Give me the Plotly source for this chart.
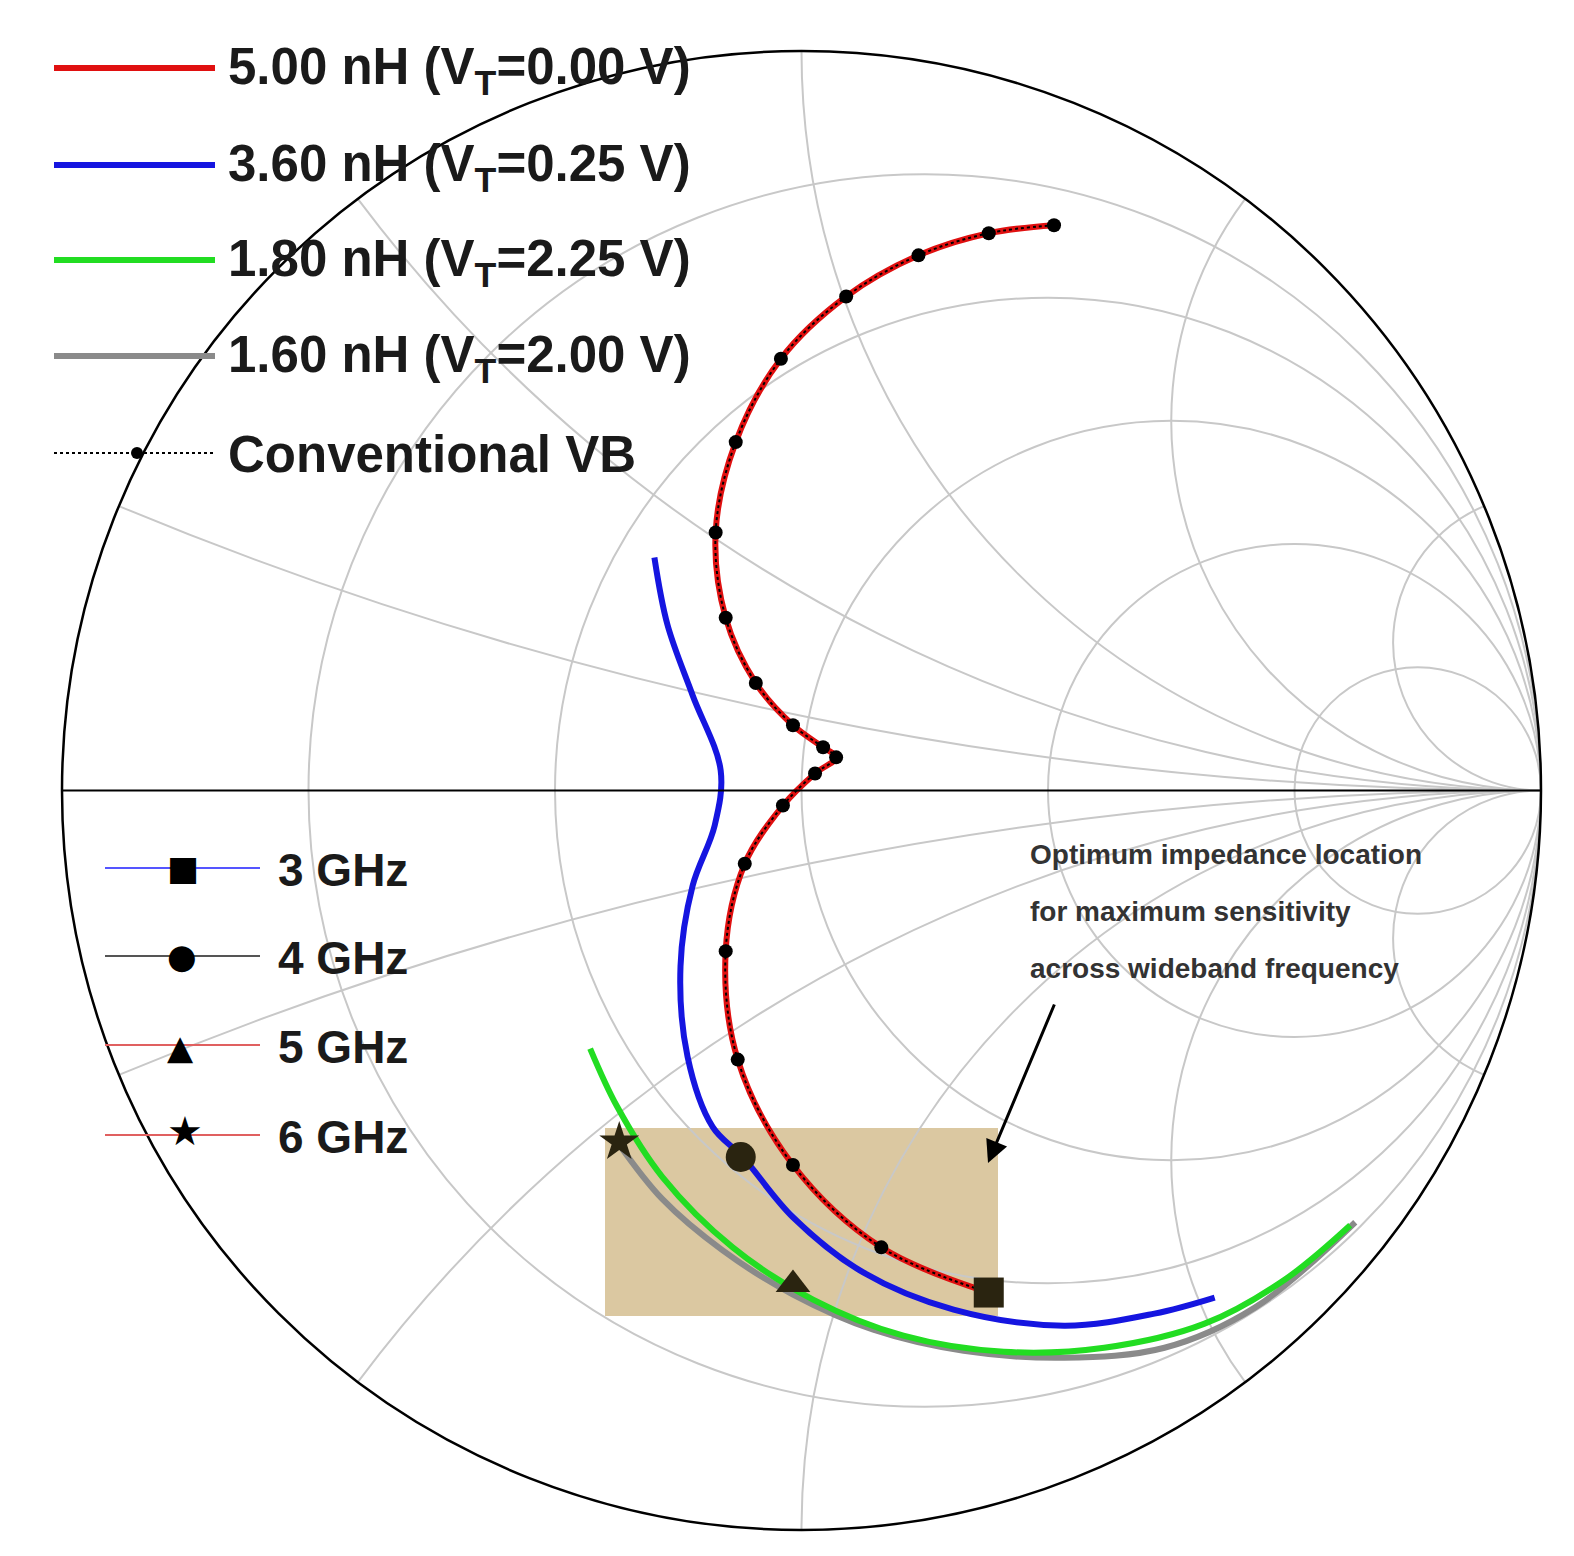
import plotly.graph_objects as go
import numpy as np

W, H = 1574, 1556
CX, CY, R = 798.5, 785, 736.5

# reflection-coefficient points (pixel coordinates on the chart)
red_px = [(1050,222),(985,230),(915,252),(843,293),(778,355),(733,438),(713,528),(723,613),
          (753,678),(790,720),(820,742),(833,752),(812,768),(780,800),(742,858),(723,945),
          (735,1053),(790,1158),(878,1240),(985,1285)]
blue_px = [(652,553),(665,620),(690,690),(718,765),(712,820),(690,880),(678,960),(685,1050),
           (710,1120),(740,1150),(790,1210),(860,1265),(950,1302),(1060,1318),(1150,1306),(1210,1290)]
green_px = [(588,1042),(615,1100),(660,1170),(730,1240),(810,1292),(900,1328),(1000,1344),
            (1100,1340),(1200,1316),(1280,1272),(1345,1218)]
gray_px = [(615,1135),(660,1192),(720,1243),(790,1287),(870,1322),(960,1343),(1060,1350),
           (1160,1340),(1250,1300),(1350,1215)]
freq_px = {"3 GHz": (985,1285), "4 GHz": (738,1150), "5 GHz": (790,1277), "6 GHz": (617,1135)}
freq_sym = {"3 GHz": "square", "4 GHz": "circle", "5 GHz": "triangle-up", "6 GHz": "star"}

def to_z(pts):
    g = np.array([complex((x-CX)/R, -(y-CY)/R) for x, y in pts])
    z = (1+g)/(1-g)
    return z.real, z.imag

fig = go.Figure()
def add(pts, color, width, dash=None, mode="lines", marker=None):
    re, im = to_z(pts)
    fig.add_trace(go.Scattersmith(real=re, imag=im, mode=mode,
                                  line=dict(color=color, width=width, dash=dash, shape="spline"),
                                  marker=marker, showlegend=False))

add(gray_px, "#8a8a8a", 6)
add(green_px, "#22dd22", 6)
add(blue_px, "#1515e0", 6)
add(red_px, "#e01010", 6)
add(red_px, "black", 2, dash="dot", mode="lines+markers", marker=dict(color="black", size=14))
for k, p in freq_px.items():
    re, im = to_z([p])
    fig.add_trace(go.Scattersmith(real=re, imag=im, mode="markers", showlegend=False,
                                  marker=dict(symbol=freq_sym[k], color="#2a2410", size=30)))

ticks = [0.2, 0.5, 1, 2, 5]
fig.update_layout(
    width=W, height=H, margin=dict(l=0, r=0, t=0, b=0),
    paper_bgcolor="white",
    smith=dict(domain=dict(x=[54/W, 1533/W], y=[1-1525/H, 1-40/H]), bgcolor="rgba(0,0,0,0)",
               realaxis=dict(tickvals=ticks, showticklabels=False, gridcolor="#c8c8c8",
                             gridwidth=1.5, linecolor="black", linewidth=2, ticks=""),
               imaginaryaxis=dict(tickvals=[-5, -2, -1, -0.5, -0.2] + ticks, showticklabels=False,
                                  gridcolor="#c8c8c8", gridwidth=1.5, linecolor="black",
                                  linewidth=2.5, ticks="")),
)

def px(x, y):
    return x/W, 1-y/H

shapes = []
x0, y0 = px(597, 1120); x1, y1 = px(990, 1308)
shapes.append(dict(type="rect", xref="paper", yref="paper", x0=x0, x1=x1, y0=y1, y1=y0,
                   fillcolor="rgba(200,170,110,0.65)", line=dict(width=0), layer="below"))
ann = []
leg1 = [("5.00 nH (V<sub>T</sub>=0.00 V)", "#e01010", 60, "solid"),
        ("3.60 nH (V<sub>T</sub>=0.25 V)", "#1515e0", 157, "solid"),
        ("1.80 nH (V<sub>T</sub>=2.25 V)", "#22dd22", 252, "solid"),
        ("1.60 nH (V<sub>T</sub>=2.00 V)", "#8a8a8a", 348, "solid"),
        ("Conventional VB", "black", 445, "dot")]
for t, c, y, d in leg1:
    a, b = px(46, y); e, _ = px(207, y)
    shapes.append(dict(type="line", xref="paper", yref="paper", x0=a, x1=e, y0=b, y1=b,
                       line=dict(color=c, width=2 if d == "dot" else 6, dash=d)))
    tx, ty = px(218, y + 2)
    ann.append(dict(x=tx, y=ty, xref="paper", yref="paper", text="<b>"+t+"</b>", showarrow=False,
                    xanchor="left", yanchor="middle", font=dict(size=51, color="#1a1a1a", family="Liberation Sans")))
cx, cy = px(129, 445)
shapes.append(dict(type="circle", xref="paper", yref="paper", x0=cx-6/W, x1=cx+6/W, y0=cy-6/H, y1=cy+6/H,
                   fillcolor="black", line=dict(width=0)))
leg2 = [("3 GHz", "#5555ff", 860, "■"), ("4 GHz", "#555555", 948, "●"),
        ("5 GHz", "#e06060", 1037, "▲"), ("6 GHz", "#e06060", 1127, "★")]
for t, c, y, s in leg2:
    a, b = px(97, y); e, _ = px(252, y)
    shapes.append(dict(type="line", xref="paper", yref="paper", x0=a, x1=e, y0=b, y1=b,
                       line=dict(color=c, width=2)))
    mx, my = px(157, y + (-4 if s == "★" else 0) + (2 if s == "▲" else 0))
    ann.append(dict(x=mx, y=my, xref="paper", yref="paper", text=s, showarrow=False,
                    yanchor="middle", font=dict(size=34 if s != "★" else 40, color="black", family="DejaVu Sans")))
    tx, ty = px(268, y + 2)
    ann.append(dict(x=tx, y=ty, xref="paper", yref="paper", text="<b>"+t+"</b>", showarrow=False,
                    xanchor="left", yanchor="middle", font=dict(size=46, color="#1a1a1a", family="Liberation Sans")))
for i, line in enumerate(["Optimum impedance location", "for maximum sensitivity", "across wideband frequency"]):
    tx, ty = px(1020, 846 + 57 * i)
    ann.append(dict(x=tx, y=ty, xref="paper", yref="paper", showarrow=False, xanchor="left", yanchor="middle",
                    font=dict(size=28, color="#333333", family="Liberation Sans"), text="<b>"+line+"</b>"))
hx, hy = px(980, 1155)
ann.append(dict(x=hx, y=hy, ax=1052-985, ay=995-1155, xref="paper", yref="paper",
                showarrow=True, arrowhead=2, arrowsize=1.5, arrowwidth=3, arrowcolor="black", text=""))
fig.update_layout(shapes=shapes, annotations=ann)
fig.write_html("out.html")
